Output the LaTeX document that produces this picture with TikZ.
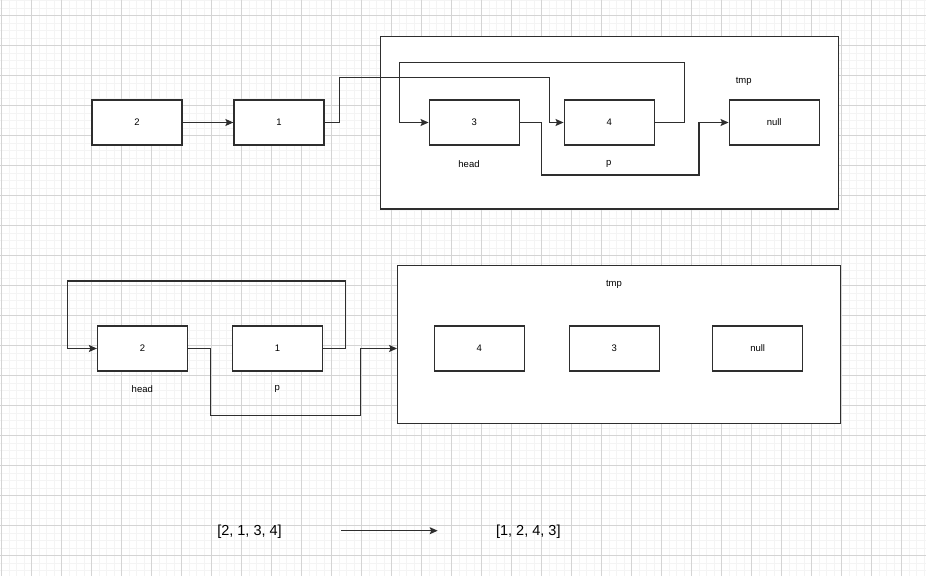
\documentclass[tikz,border=0pt]{standalone}
\usepackage{fontspec}
\setmainfont{Liberation Sans}
\usetikzlibrary{arrows.meta}
\definecolor{gridmajor}{HTML}{D4D4D4}
\definecolor{gridminor}{HTML}{F4F4F4}
\definecolor{ink}{HTML}{2E2E2E}
\begin{document}
\begin{tikzpicture}[x=1pt,y=-1pt,
  cell/.style={draw=ink, line width=1.3pt, fill=white, minimum width=90pt,
    minimum height=45pt, inner sep=0pt, font=\fontsize{9.5}{10}\selectfont},
  frame/.style={draw=ink, line width=1.3pt, fill=white, inner sep=0pt},
  tag/.style={font=\fontsize{9.5}{10}\selectfont, inner sep=0pt},
  biglist/.style={font=\fontsize{14.5}{16}\selectfont, inner sep=0pt},
  link/.style={draw=ink, line width=1.1pt, -{Stealth[length=8pt,width=7pt,inset=1.5pt]}},
]
\useasboundingbox (0,0) rectangle (926,576);
\fill[white] (0,0) rectangle (926,576);
% background grid
\foreach \gx in {1.7,9.2,...,926} \draw[gridminor, line width=0.5pt] (\gx,0) -- (\gx,576);
\foreach \gy in {0.7,8.2,...,576} \draw[gridminor, line width=0.5pt] (0,\gy) -- (926,\gy);
\foreach \gx in {1.7,31.7,...,926} \draw[gridmajor, line width=0.6pt] (\gx,0) -- (\gx,576);
\foreach \gy in {15.7,45.7,...,576} \draw[gridmajor, line width=0.6pt] (0,\gy) -- (926,\gy);

% ---- upper list: 2 -> 1 -> (3, 4, null inside tmp) ----
\node[frame, minimum width=458.4pt, minimum height=172.7pt] (tmpA) at (609.5,122.6) {};
\node[cell] (twoA)  at (137,122.5)   {2};
\node[cell] (oneA)  at (279,122.5)   {1};
\node[cell] (threeA) at (474.2,122.5) {3};
\node[cell] (fourA) at (609.2,122.5) {4};
\node[cell] (nullA) at (774.2,122.5) {null};
\node[tag] (headA) at (469,163.7) {head};
\node[tag] (pA)    at (608.7,164.3) {p};
\node[tag] (tmpLA) at (743.7,81.7) {tmp};

\draw[link] (twoA.east) -- (oneA.west);
\draw[link] (oneA.east) -- (339.7,122.5) -- (339.7,77.3) -- (549.3,77.3)
  -- (549.3,122.5) -- (fourA.west);
\draw[link] (fourA.east) -- (684.3,122.5) -- (684.3,62.7) -- (399.3,62.7)
  -- (399.3,122.5) -- (threeA.west);
\draw[link] (threeA.east) -- (541.3,122.5) -- (541.3,175) -- (699,175)
  -- (699,122.5) -- (nullA.west);

% ---- lower list: swapped pair, then tmp ----
\node[frame, minimum width=443pt, minimum height=157.6pt] (tmpB) at (619.2,344.5) {};
\node[cell] (twoB)  at (142.5,348.5) {2};
\node[cell] (oneB)  at (277.5,348.5) {1};
\node[cell] (fourB) at (479.3,348.5) {4};
\node[cell] (threeB) at (614.3,348.5) {3};
\node[cell] (nullB) at (757.7,348.5) {null};
\node[tag] (headB) at (142.3,388.7) {head};
\node[tag] (pB)    at (277.3,389.3) {p};
\node[tag] (tmpLB) at (614,284) {tmp};

\draw[link] (oneB.east) -- (345.3,348.5) -- (345.3,281) -- (67.3,281)
  -- (67.3,348.5) -- (twoB.west);
\draw[link] (twoB.east) -- (210.3,348.5) -- (210.3,415.7) -- (360.3,415.7)
  -- (360.3,348.5) -- (tmpB.west |- twoB.east);

% ---- summary ----
\node[biglist] (before) at (249.5,531.5) {[2, 1, 3, 4]};
\node[biglist] (after)  at (528.3,531.5) {[1, 2, 4, 3]};
\coordinate (arrS) at (341,530.7);
\coordinate (arrE) at (437.7,530.7);
\draw[link] (arrS) -- (arrE);
\end{tikzpicture}
\end{document}
